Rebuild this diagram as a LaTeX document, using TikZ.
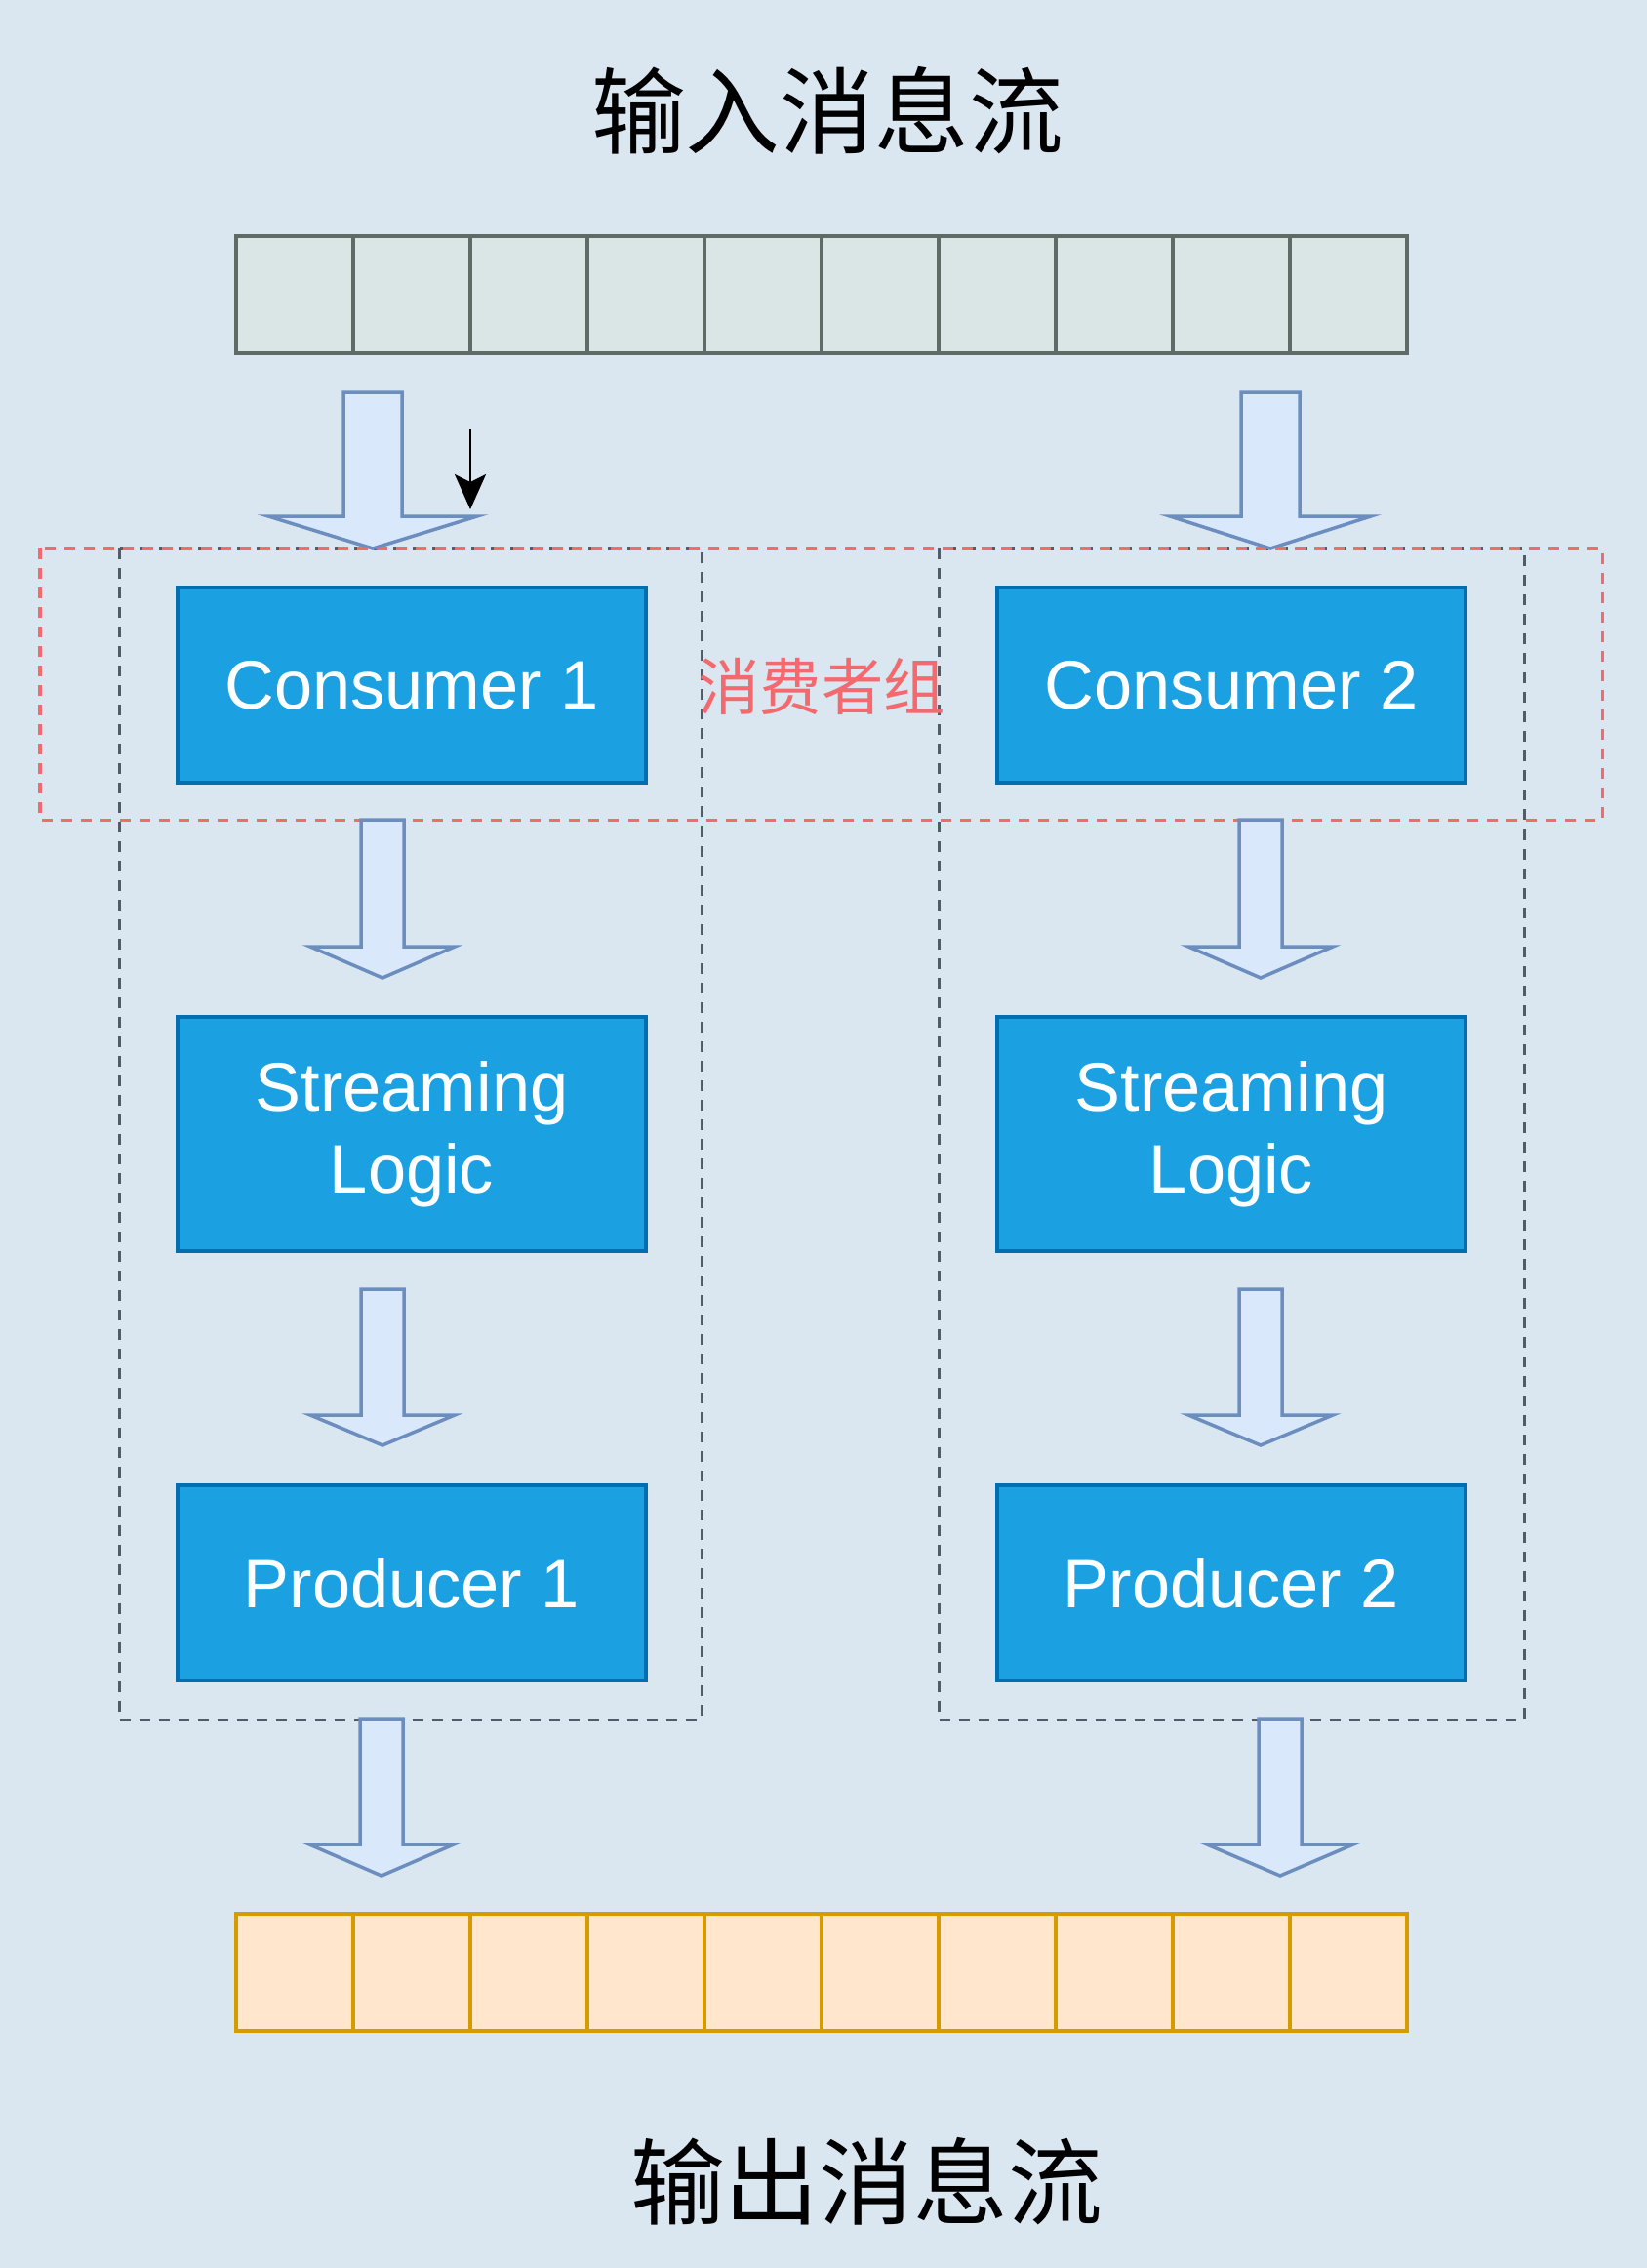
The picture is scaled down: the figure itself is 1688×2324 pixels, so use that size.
\documentclass[tikz,border=0pt]{standalone}
\usepackage{fontspec}
\setmainfont{Liberation Sans}
\newfontfamily\cjk{Noto Sans CJK SC}
\usetikzlibrary{arrows.meta}

\definecolor{bgblue}{HTML}{DAE7F0}
\definecolor{boxfill}{HTML}{1BA1E2}
\definecolor{boxline}{HTML}{006EAF}
\definecolor{fatfill}{HTML}{DAE8FC}
\definecolor{fatline}{HTML}{6C8EBF}
\definecolor{inline}{HTML}{5F6B66}
\definecolor{infill}{HTML}{DAE6E6}
\definecolor{outfill}{HTML}{FFE6CC}
\definecolor{outline}{HTML}{D79B00}
\definecolor{grpgray}{HTML}{525C68}
\definecolor{grpred}{HTML}{F26A6E}

% 空心大箭头: 中心x, 顶部y, 箭头底y, 尖端y, 杆半宽, 头半宽
\newcommand{\fatarrow}[6]{%
  \draw[fatstyle] (#1-#5,#2) -- (#1+#5,#2) -- (#1+#5,#3) -- (#1+#6,#3)
    -- (#1,#4) -- (#1-#6,#3) -- (#1-#5,#3) -- cycle;}

\begin{document}
\begin{tikzpicture}[x=0.01cm, y=-0.01cm,
  procbox/.style={draw=boxline, fill=boxfill, line width=0.035cm, text=white,
    minimum width=4.8cm, minimum height=2cm, align=center,
    font=\fontsize{20}{24}\selectfont},
  incell/.style={draw=inline, fill=infill, line width=0.035cm,
    minimum size=1.2cm, inner sep=0pt},
  outcell/.style={draw=outline, fill=outfill, line width=0.035cm,
    minimum size=1.2cm, inner sep=0pt},
  grpbox/.style={draw=grpgray, line width=0.03cm, dash pattern=on 0.11cm off 0.09cm},
  redbox/.style={draw=grpred, line width=0.03cm, dash pattern=on 0.11cm off 0.09cm},
  fatstyle/.style={draw=fatline, fill=fatfill, line width=0.035cm, line join=miter},
  title/.style={font=\cjk\fontsize{27.5}{30}\selectfont}]

	% 背景与边界
	\fill[bgblue] (0,0) rectangle (1688,2324);
	\useasboundingbox (0,0) rectangle (1688,2324);

	% 1. 标题
	\node[title] (intitle) at (848,113) {输入消息流};
	\node[title] (outtitle) at (888,2235) {输出消息流};

	% 2. 输入/输出消息队列
	\foreach \i in {0,...,9} {
		\node[incell] (in\i) at (302+120*\i,302) {};
		\node[outcell] (out\i) at (302+120*\i,2021) {};
	}

	% 3. 分组虚线框
	\draw[grpbox] (122,562) rectangle (719,1762);
	\draw[grpbox] (962,562) rectangle (1562,1762);
	\draw[redbox] (41,562) rectangle (1642,840);
	\node[text=grpred, font=\cjk\fontsize{18}{20}\selectfont] (grplabel) at (842,703) {消费者组};

	% 4. 处理节点
	\node[procbox] (cons1) at (422,702) {Consumer 1};
	\node[procbox] (cons2) at (1262,702) {Consumer 2};
	\node[procbox, minimum height=2.4cm] (logic1) at (422,1162) {Streaming\\Logic};
	\node[procbox, minimum height=2.4cm] (logic2) at (1262,1162) {Streaming\\Logic};
	\node[procbox] (prod1) at (422,1622) {Producer 1};
	\node[procbox] (prod2) at (1262,1622) {Producer 2};

	% 5. 大箭头
	\fatarrow{382}{402}{529}{562}{30}{107}
	\fatarrow{1302}{402}{529}{562}{30}{103}
	\fatarrow{392}{840}{970}{1002}{22}{74}
	\fatarrow{1292}{840}{970}{1002}{22}{74}
	\fatarrow{392}{1321}{1450}{1481}{22}{74}
	\fatarrow{1292}{1321}{1450}{1481}{22}{74}
	\fatarrow{391}{1761}{1890}{1922}{22}{74}
	\fatarrow{1312}{1761}{1890}{1922}{22}{75}

	% 6. 小黑箭头
	\coordinate (pin) at (482,440);
	\coordinate (pinend) at (482,522);
	\draw[line width=0.028cm, -{Stealth[length=0.36cm, width=0.32cm, inset=0.08cm]}] (pin) -- (pinend);

\end{tikzpicture}
\end{document}
